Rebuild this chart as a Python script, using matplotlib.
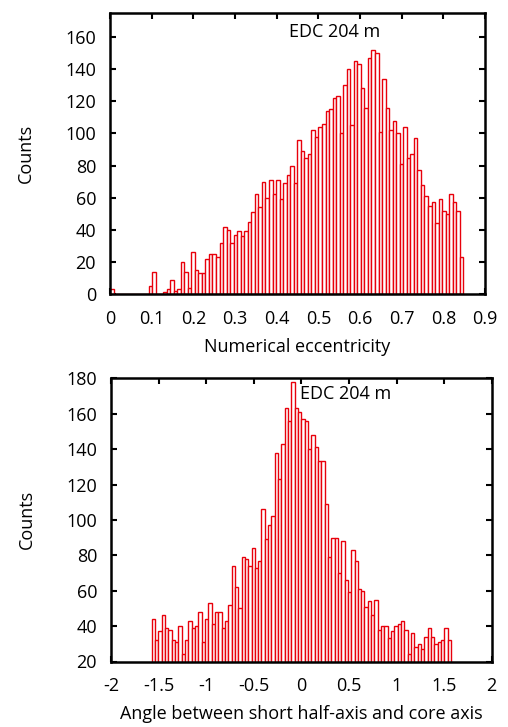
import numpy as np
import matplotlib
matplotlib.use("Agg")
import matplotlib.pyplot as plt

# ---- data ----
ecc_counts = [3, 0, 0, 0, 0, 0, 0, 0, 0, 0, 0, 5, 14, 0, 0, 1, 3, 9, 2, 3,
              20, 14, 4, 26, 15, 13, 13, 22, 25, 25, 23, 32, 42, 40, 32, 37, 39, 36, 39, 45,
              51, 62, 54, 70, 60, 71, 62, 71, 59, 69, 74, 80, 69, 96, 89, 85, 87, 102, 98, 104,
              106, 114, 115, 122, 123, 100, 130, 140, 105, 145, 143, 128, 116, 147, 152, 150, 101, 134, 116, 102,
              108, 100, 81, 104, 85, 87, 97, 77, 68, 61, 55, 57, 44, 59, 52, 50, 62, 57, 52, 23]
ecc_min, ecc_max = 0.0, 0.848

ang_counts = [44, 32, 37, 46, 39, 38, 32, 31, 40, 24, 32, 43, 39, 40, 48, 31, 44, 53, 41, 48,
              48, 39, 43, 52, 74, 62, 50, 79, 78, 74, 84, 73, 77, 106, 89, 97, 102, 138, 123, 143,
              163, 156, 178, 163, 161, 157, 156, 140, 148, 141, 133, 133, 109, 79, 90, 90, 70, 88, 66, 59,
              83, 77, 61, 60, 51, 54, 46, 55, 38, 40, 40, 33, 37, 40, 41, 43, 38, 24, 36, 28,
              30, 27, 34, 39, 34, 30, 31, 32, 39, 32]
ang_min, ang_max = -np.pi / 2, np.pi / 2

top_xticks = [0, 0.1, 0.2, 0.3, 0.4, 0.5, 0.6, 0.7, 0.8, 0.9]
top_xlabels = ["0", "0.1", "0.2", "0.3", "0.4", "0.5", "0.6", "0.7", "0.8", "0.9"]
top_yticks = [0, 20, 40, 60, 80, 100, 120, 140, 160]
bot_xticks = [-2, -1.5, -1, -0.5, 0, 0.5, 1, 1.5, 2]
bot_xlabels = ["-2", "-1.5", "-1", "-0.5", "0", "0.5", "1", "1.5", "2"]
bot_yticks = [20, 40, 60, 80, 100, 120, 140, 160, 180]

label_text = "EDC 204 m"

plt.rcParams['font.family'] = ['Open Sans', 'DejaVu Sans']
FS = 13

fig = plt.figure(figsize=(5.08, 7.27), dpi=100)
ax1 = fig.add_axes([110 / 508, 1 - 294 / 727, 375 / 508, 281 / 727])
ax2 = fig.add_axes([111 / 508, 1 - 661.5 / 727, 380.7 / 508, 283.2 / 727])

RED = '#e8000b'


def draw(ax, counts, lo, hi):
    counts = np.asarray(counts, dtype=float)
    edges = np.linspace(lo, hi, len(counts) + 1)
    ax.bar(edges[:-1], counts, width=np.diff(edges), align='edge',
           facecolor='white', edgecolor=RED, linewidth=1.0, zorder=2)


draw(ax1, ecc_counts, ecc_min, ecc_max)
draw(ax2, ang_counts, ang_min, ang_max)

ax1.set_xlim(0, 0.9)
ax1.set_ylim(0, 175)
ax1.set_xticks(top_xticks)
ax1.set_xticklabels(top_xlabels)
ax1.set_yticks(top_yticks)
ax1.set_xlabel("Numerical eccentricity", fontsize=FS, labelpad=7.5)
ax1.set_ylabel("Counts", fontsize=FS, labelpad=22)
ax1.text(0.6, 0.965, label_text, transform=ax1.transAxes, ha='center', va='top', fontsize=FS)

ax2.set_xlim(-2, 2)
ax2.set_ylim(20, 180)
ax2.set_xticks(bot_xticks)
ax2.set_xticklabels(bot_xlabels)
ax2.set_yticks(bot_yticks)
ax2.set_xlabel("Angle between short half-axis and core axis", fontsize=FS, labelpad=7)
ax2.set_ylabel("Counts", fontsize=FS, labelpad=22)
ax2.text(0.615, 0.975, label_text, transform=ax2.transAxes, ha='center', va='top', fontsize=FS)

for ax in (ax1, ax2):
    for s in ax.spines.values():
        s.set_linewidth(1.8)
        s.set_zorder(5)
    ax.tick_params(direction='in', length=4, width=1.5, top=True, right=True,
                   labelsize=FS)
    ax.tick_params(axis='x', pad=11.5)
    ax.tick_params(axis='y', pad=10)

fig.savefig("out.png", dpi=100)
